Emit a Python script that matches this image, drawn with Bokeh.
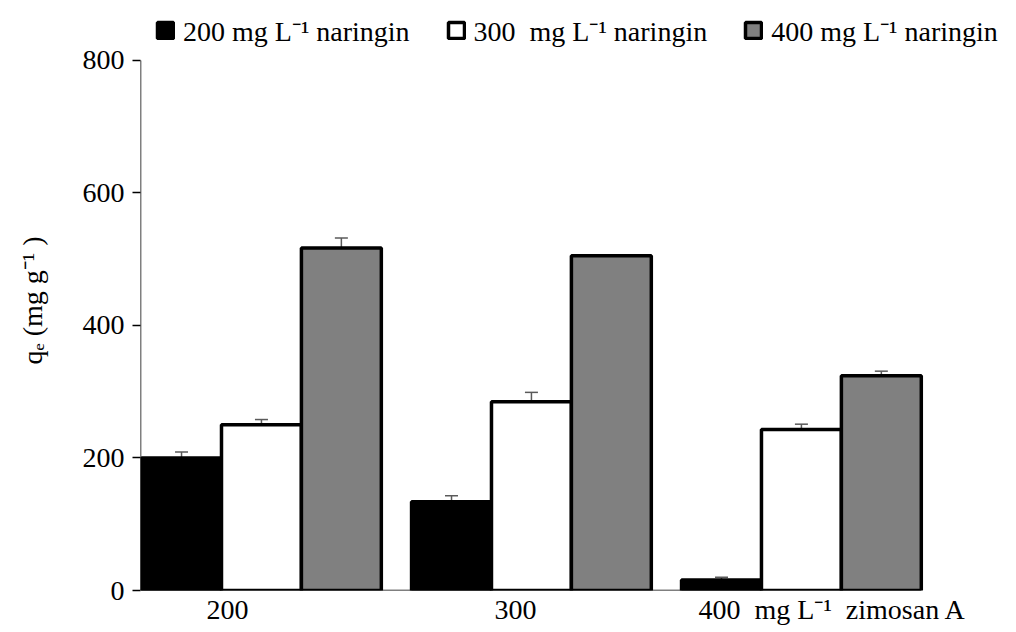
from bokeh.plotting import figure
from bokeh.models import ColumnDataSource, Range1d, FixedTicker, Whisker, TeeHead, Legend, LegendItem
from bokeh.transform import dodge
from bokeh.embed import file_html
from bokeh.resources import INLINE

# ---- data ----
groups = [0, 1, 2]
group_labels = ["200", "300", "400\u00a0\u00a0mg L\u207b\u00b9\u00a0\u00a0zimosan A"]
naringin_200 = [200, 134, 16]
naringin_200_err = [9, 9, 4]
naringin_300 = [250, 285, 243]
naringin_300_err = [8, 14, 8]
naringin_400 = [517, 505, 324]
naringin_400_err = [15, 1, 7]
series_names = ["200 mg L\u207b\u00b9 naringin", "300\u00a0\u00a0mg L\u207b\u00b9 naringin", "400 mg L\u207b\u00b9 naringin"]
series_colors = ["black", "white", "#808080"]
y_ticks = [0, 200, 400, 600, 800]

FONT = "Liberation Serif"
BW = 0.296

# frame extends above the 800 line (room for the legend) and to the right edge
p = figure(width=1008, height=627, output_backend="svg", toolbar_location=None,
           x_range=Range1d(-0.448, 2.767), y_range=Range1d(0, 875.3),
           min_border_left=140, min_border_right=0, min_border_top=10, min_border_bottom=36)
p.outline_line_color = None
p.xgrid.grid_line_color = None
p.ygrid.grid_line_color = None

series = [
    (naringin_200, naringin_200_err, -BW),
    (naringin_300, naringin_300_err, 0.0),
    (naringin_400, naringin_400_err, BW),
]
items = []
for (vals, errs, off), col, name in zip(series, series_colors, series_names):
    src = ColumnDataSource(dict(x=groups, top=vals,
                                lo=[v - e for v, e in zip(vals, errs)],
                                hi=[v + e for v, e in zip(vals, errs)]))
    r = p.vbar(x=dodge("x", off), top="top", width=BW, source=src,
               fill_color=col, line_color="black", line_width=3.5)
    w = Whisker(base=dodge("x", off), lower="lo", upper="hi", source=src,
                line_color="#5a5a5a", line_width=1.5,
                upper_head=TeeHead(size=13, line_color="#5a5a5a", line_width=1.5),
                lower_head=TeeHead(size=13, line_color="#5a5a5a", line_width=1.5))
    p.add_layout(w)
    items.append(LegendItem(label=name, renderers=[r]))

# axis lines: y from 0 to 800, x from the y axis to the end of the last bar group
x0 = p.x_range.start
x_end = groups[-1] + 1.5 * BW
p.segment(x0=[x0], y0=[y_ticks[0]], x1=[x0], y1=[y_ticks[-1]], line_color="black", line_width=1.5)
p.segment(x0=[x0], y0=[0], x1=[x_end], y1=[0], line_color="black", line_width=1.5)

legend = Legend(items=items, orientation="horizontal", location=(15, 541),
                glyph_width=20, glyph_height=20, label_standoff=8, spacing=36,
                padding=0, margin=0, border_line_color=None, background_fill_alpha=0,
                label_text_font=FONT, label_text_font_size="28px", label_text_color="black")
p.add_layout(legend)

# y axis
p.yaxis.ticker = FixedTicker(ticks=y_ticks)
p.yaxis.axis_line_color = None
p.yaxis.major_tick_line_color = "black"
p.yaxis.major_tick_line_width = 1.5
p.yaxis.major_tick_out = 8
p.yaxis.major_tick_in = 0
p.yaxis.minor_tick_line_color = None
p.yaxis.major_label_text_font = FONT
p.yaxis.major_label_text_font_size = "28px"
p.yaxis.major_label_text_color = "black"
p.yaxis.major_label_standoff = 8
p.yaxis.axis_label = "q\u2091 (mg g\u207b\u00b9 )"
p.yaxis.axis_label_text_font = FONT
p.yaxis.axis_label_text_font_size = "28px"
p.yaxis.axis_label_text_font_style = "normal"
p.yaxis.axis_label_text_color = "black"
p.yaxis.axis_label_standoff = 32

# x axis
tick_pos = [-0.126, 0.941, 2.115]
p.xaxis.ticker = FixedTicker(ticks=tick_pos)
p.xaxis.major_label_overrides = {t: l for t, l in zip(tick_pos, group_labels)}
p.xaxis.axis_line_color = None
p.xaxis.major_tick_line_color = None
p.xaxis.minor_tick_line_color = None
p.xaxis.major_tick_out = 0
p.xaxis.major_tick_in = 0
p.xaxis.major_label_standoff = 3
p.xaxis.major_label_text_font = FONT
p.xaxis.major_label_text_font_size = "28px"
p.xaxis.major_label_text_color = "black"

open("out.html", "w").write(file_html(p, INLINE))
